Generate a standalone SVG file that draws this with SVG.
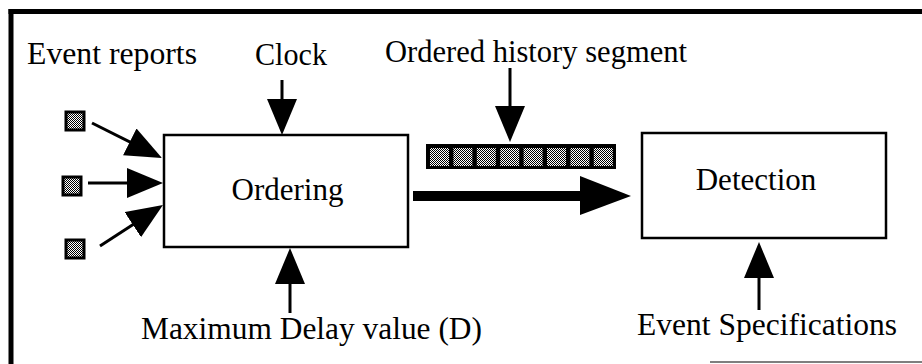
<svg xmlns="http://www.w3.org/2000/svg" width="922" height="364" viewBox="0 0 922 364">
<defs>
<pattern id="chk" width="2" height="2" patternUnits="userSpaceOnUse">
<rect width="2" height="2" fill="#fff"/>
<rect width="1" height="1" fill="#000"/>
<rect x="1" y="1" width="1" height="1" fill="#000"/>
</pattern>
<marker id="head" viewBox="0 0 36 30" refX="16" refY="15" markerWidth="36" markerHeight="30" markerUnits="userSpaceOnUse" orient="auto">
<path d="M0,0 L36,15 L0,30 Z" fill="#000"/>
</marker>
</defs>
<style>
text{font-family:"Liberation Serif","Times New Roman",serif;font-size:31px;fill:#000}
.box{fill:#fff;stroke:#000;stroke-width:2.5}
.ln{stroke:#000;stroke-width:3;fill:none;marker-end:url(#head)}
.sq{fill:url(#chk);stroke:#000;stroke-width:3}
.frame{stroke:#000;stroke-width:5;fill:none}
</style>
<rect width="922" height="364" fill="#fff"/>
<g id="frame">
<line class="frame" x1="11" y1="9" x2="11" y2="364"/>
<line class="frame" x1="8.5" y1="11.5" x2="922" y2="11.5"/>
<line x1="710" y1="362" x2="922" y2="362" stroke="#555" stroke-width="1.5"/>
</g>
<g id="connectors">
<line class="ln" x1="92" y1="123" x2="144.1" y2="149.1"/>
<line class="ln" x1="88" y1="183" x2="143" y2="183"/>
<line class="ln" x1="100" y1="246" x2="146.2" y2="215.9"/>
<line class="ln" x1="282" y1="80" x2="282" y2="115"/>
<line class="ln" x1="510" y1="68" x2="510" y2="122"/>
<line class="ln" x1="290" y1="313" x2="290" y2="268"/>
<line class="ln" x1="759" y1="310" x2="759" y2="262"/>
<line x1="413" y1="196" x2="584" y2="196" stroke="#000" stroke-width="10"/>
<polygon points="580,176 631,196 580,215" fill="#000"/>
</g>
<g id="event-reports">
<text x="27" y="64" textLength="170" lengthAdjust="spacingAndGlyphs">Event reports</text>
<rect class="sq" x="66" y="112" width="18" height="18"/>
<rect class="sq" x="63" y="177" width="18" height="18"/>
<rect class="sq" x="66" y="240" width="18" height="18"/>
</g>
<g id="clock">
<text x="255" y="65" textLength="72" lengthAdjust="spacingAndGlyphs">Clock</text>
</g>
<g id="ordered-history-segment">
<text x="385" y="62" textLength="302" lengthAdjust="spacingAndGlyphs">Ordered history segment</text>
<rect x="426" y="144" width="190" height="25" fill="#000"/>
<rect x="430" y="148" width="19" height="18" fill="url(#chk)"/>
<rect x="453.4" y="148" width="19" height="18" fill="url(#chk)"/>
<rect x="476.8" y="148" width="19" height="18" fill="url(#chk)"/>
<rect x="500.2" y="148" width="19" height="18" fill="url(#chk)"/>
<rect x="523.6" y="148" width="19" height="18" fill="url(#chk)"/>
<rect x="547" y="148" width="19" height="18" fill="url(#chk)"/>
<rect x="570.4" y="148" width="19" height="18" fill="url(#chk)"/>
<rect x="593.8" y="148" width="19" height="18" fill="url(#chk)"/>
</g>
<g id="ordering">
<rect class="box" x="164" y="135" width="244" height="112"/>
<text x="287.5" y="200" text-anchor="middle">Ordering</text>
</g>
<g id="detection">
<rect class="box" x="642" y="133" width="244" height="105"/>
<text x="756" y="190" text-anchor="middle">Detection</text>
</g>
<g id="max-delay">
<text x="141" y="339" textLength="341" lengthAdjust="spacingAndGlyphs">Maximum Delay value (D)</text>
</g>
<g id="event-specifications">
<text x="637" y="335" textLength="260" lengthAdjust="spacingAndGlyphs">Event Specifications</text>
</g>
</svg>
